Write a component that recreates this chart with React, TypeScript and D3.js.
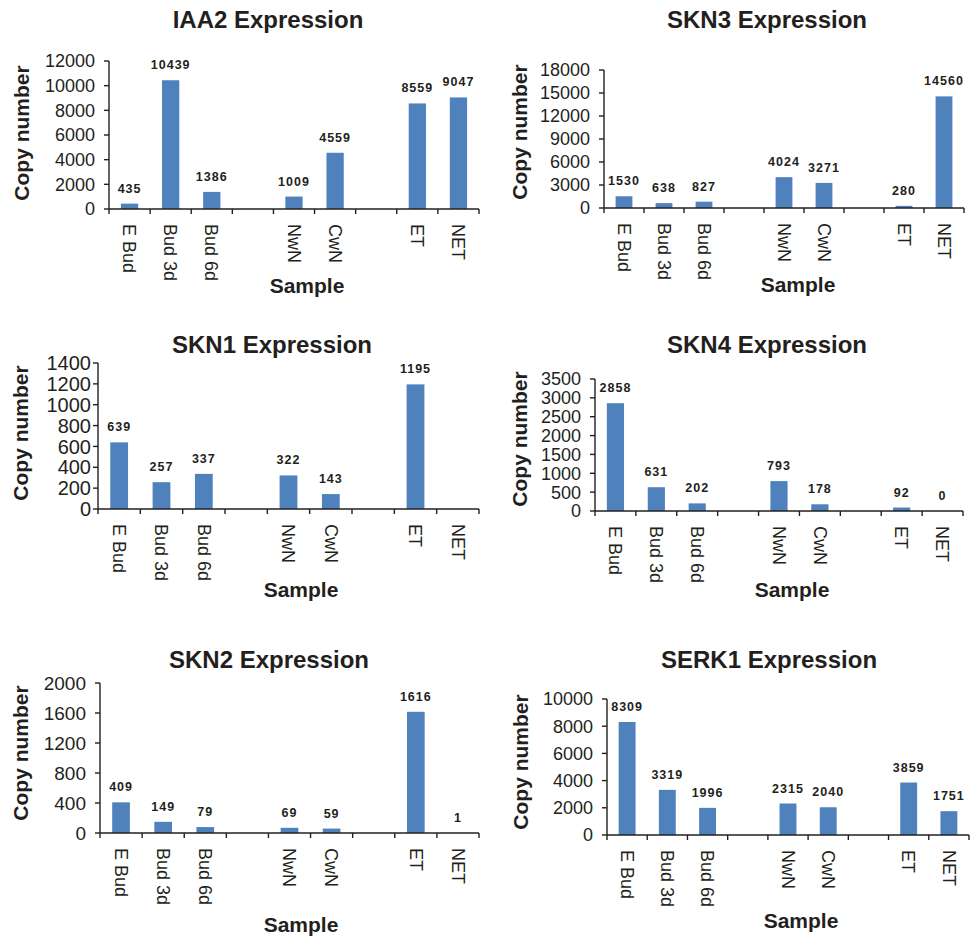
import React from 'react';
import * as d3 from 'd3';

// Sample slots along the x axis (the two gaps are empty slots)
const slots = ['E Bud', 'Bud 3d', 'Bud 6d', 'gap1', 'NwN', 'CwN', 'gap2', 'ET', 'NET'];
const samples = ['E Bud', 'Bud 3d', 'Bud 6d', 'NwN', 'CwN', 'ET', 'NET'];

// Copy numbers (null = no bar, no label)
const iaa2 = [435, 10439, 1386, 1009, 4559, 8559, 9047];
const skn3 = [1530, 638, 827, 4024, 3271, 280, 14560];
const skn1 = [639, 257, 337, 322, 143, 1195, null];
const skn4 = [2858, 631, 202, 793, 178, 92, 0];
const skn2 = [409, 149, 79, 69, 59, 1616, 1];
const serk1 = [8309, 3319, 1996, 2315, 2040, 3859, 1751];

// Y tick values of each panel
const iaa2Ticks = [0, 2000, 4000, 6000, 8000, 10000, 12000];
const skn3Ticks = [0, 3000, 6000, 9000, 12000, 15000, 18000];
const skn1Ticks = [0, 200, 400, 600, 800, 1000, 1200, 1400];
const skn4Ticks = [0, 500, 1000, 1500, 2000, 2500, 3000, 3500];
const skn2Ticks = [0, 400, 800, 1200, 1600, 2000];
const serk1Ticks = [0, 2000, 4000, 6000, 8000, 10000];

const titles = ['IAA2 Expression', 'SKN3 Expression', 'SKN1 Expression', 'SKN4 Expression', 'SKN2 Expression', 'SERK1 Expression'];

const BAR = '#4F81BD';
const INK = '#231f20';
const FONT = '"Liberation Sans", Arial, Helvetica, sans-serif';

type Layout = {
  left: number; right: number; top: number; bottom: number;
  titleX: number; titleY: number;
  ylabX: number; ylabY: number;
  sampleX: number; sampleY: number;
  tickFont: number; tickPad: number;
};

const layouts: Layout[] = [
  { left: 109, right: 479, top: 61, bottom: 209, titleX: 268, titleY: 28, ylabX: 29, ylabY: 133, sampleX: 307, sampleY: 293, tickFont: 18, tickPad: 9 },
  { left: 604, right: 964, top: 70, bottom: 208, titleX: 767, titleY: 28, ylabX: 527, ylabY: 132, sampleX: 798, sampleY: 292, tickFont: 18, tickPad: 9 },
  { left: 98, right: 479, top: 363, bottom: 509, titleX: 272, titleY: 353, ylabX: 28, ylabY: 433, sampleX: 301, sampleY: 597, tickFont: 20, tickPad: 2 },
  { left: 595, right: 963, top: 379, bottom: 511, titleX: 767, titleY: 353, ylabX: 527, ylabY: 439, sampleX: 792, sampleY: 597, tickFont: 18, tickPad: 9 },
  { left: 100, right: 479, top: 683, bottom: 833, titleX: 269, titleY: 668, ylabX: 28, ylabY: 753, sampleX: 301, sampleY: 932, tickFont: 19, tickPad: 9 },
  { left: 607, right: 969, top: 699, bottom: 835, titleX: 769, titleY: 668, ylabX: 528, ylabY: 762, sampleX: 801, sampleY: 928, tickFont: 18, tickPad: 9 },
];

const panelValues = [iaa2, skn3, skn1, skn4, skn2, serk1];
const panelTicks = [iaa2Ticks, skn3Ticks, skn1Ticks, skn4Ticks, skn2Ticks, serk1Ticks];

const Panel = ({ title, values, ticks, lay }: { title: string; values: (number | null)[]; ticks: number[]; lay: Layout }) => {
  const x = d3.scaleBand<string>().domain(slots).range([lay.left, lay.right]).padding(0);
  const y = d3.scaleLinear().domain([0, ticks[ticks.length - 1]]).range([lay.bottom, lay.top]);
  const bw = x.bandwidth() * 0.42;
  const boundaries = slots.map((s) => x(s) as number).concat([lay.right]);

  return (
    <g>
      <text x={lay.titleX} y={lay.titleY} textAnchor="middle" fontSize={24} fontWeight="bold" fill={INK}>{title}</text>

      {/* bars and value labels */}
      {samples.map((s, i) => {
        const v = values[i];
        if (v === null) return null;
        const cx = (x(s) as number) + x.bandwidth() / 2;
        return (
          <g key={s}>
            {v > 0 && <rect x={cx - bw / 2} y={y(v)} width={bw} height={lay.bottom - y(v)} fill={BAR} />}
            <text x={cx} y={y(v) - 11} textAnchor="middle" fontSize={12.5} fontWeight="bold" letterSpacing={1} fill={INK}>{v}</text>
          </g>
        );
      })}

      {/* y axis */}
      <line x1={lay.left} x2={lay.left} y1={lay.top} y2={lay.bottom} stroke={INK} strokeWidth={1.4} />
      {ticks.map((t) => (
        <g key={t}>
          <line x1={lay.left - 5} x2={lay.left} y1={y(t)} y2={y(t)} stroke={INK} strokeWidth={1.4} />
          <text x={lay.left - 5 - lay.tickPad} y={y(t)} dy="0.36em" textAnchor="end" fontSize={lay.tickFont} fill={INK}>{t}</text>
        </g>
      ))}

      {/* x axis */}
      <line x1={lay.left} x2={lay.right} y1={lay.bottom} y2={lay.bottom} stroke={INK} strokeWidth={1.4} />
      {boundaries.map((b, i) => (
        <line key={i} x1={b} x2={b} y1={lay.bottom} y2={lay.bottom + 5} stroke={INK} strokeWidth={1.4} />
      ))}
      {samples.map((s) => {
        const cx = (x(s) as number) + x.bandwidth() / 2;
        const ty = lay.bottom + 15;
        return (
          <text key={s} x={cx} y={ty} dy="0.35em" transform={`rotate(90, ${cx}, ${ty})`} fontSize={18} fill={INK}>{s}</text>
        );
      })}

      <text x={lay.ylabX} y={lay.ylabY} transform={`rotate(-90, ${lay.ylabX}, ${lay.ylabY})`} textAnchor="middle" fontSize={21} fontWeight="bold" fill={INK}>Copy number</text>
      <text x={lay.sampleX} y={lay.sampleY} textAnchor="middle" fontSize={21} fontWeight="bold" fill={INK}>Sample</text>
    </g>
  );
};

export default function App() {
  return (
    <svg width={971} height={936} style={{ position: 'absolute', left: 0, top: 0, background: '#fff' }} fontFamily={FONT}>
      <rect width={971} height={936} fill="#fff" />
      {layouts.map((lay, i) => (
        <Panel key={titles[i]} title={titles[i]} values={panelValues[i]} ticks={panelTicks[i]} lay={lay} />
      ))}
    </svg>
  );
}
